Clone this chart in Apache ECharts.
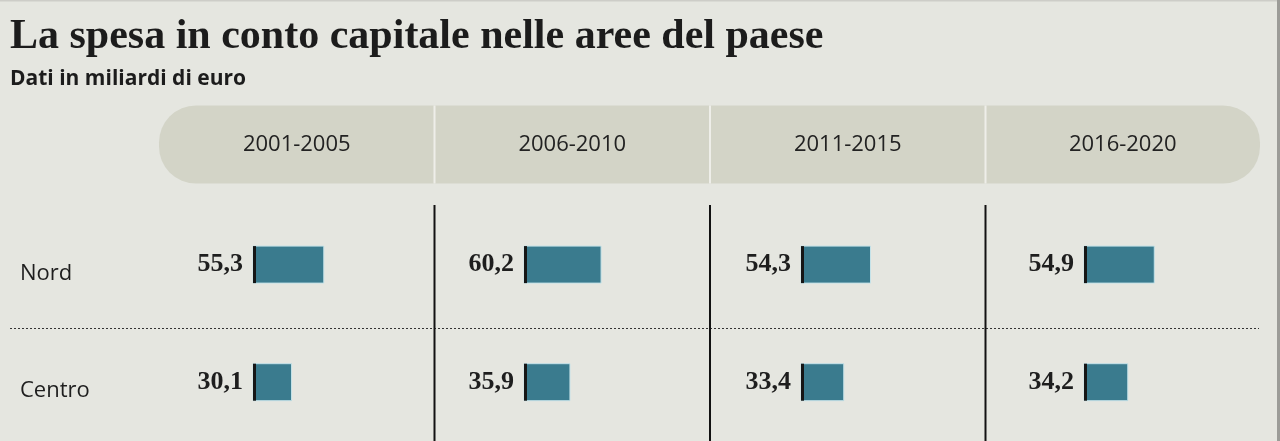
<!DOCTYPE html>
<html><head><meta charset="utf-8">
<script src="https://cdn.jsdelivr.net/npm/echarts@6/dist/echarts.min.js"></script>
<style>html,body{margin:0;padding:0;background:#e5e6e0}#c{width:1280px;height:441px}</style>
</head><body><div id="c"></div>
<script>
const periods = ['2001-2005', '2006-2010', '2011-2015', '2016-2020'];
const areas = ['Nord', 'Centro'];
const nord = [55.3, 60.2, 54.3, 54.9];
const centro = [30.1, 35.9, 33.4, 34.2];

const chart = echarts.init(document.getElementById('c'));
const barLefts = [253, 524, 801, 1084];
const colBounds = [159, 434.5, 710, 985.5, 1260];
const BAR_COLOR = '#3a7b8e';

function fmt(v) { return v.toFixed(1).replace('.', ','); }

function renderBar(params, api) {
  const v = api.value(0), c = api.value(1);
  const p0 = api.coord([0, c]);
  const p1 = api.coord([v, c]);
  const h = 37;
  const y = p0[1] - h / 2;
  return {
    type: 'group',
    children: [
      { type: 'rect', shape: { x: p0[0], y: y, width: p1[0] - p0[0], height: h },
        style: { fill: BAR_COLOR, stroke: '#c4e2e8', lineWidth: 1 } },
      { type: 'rect', shape: { x: p0[0], y: y, width: 3, height: h }, style: { fill: '#161616' } },
      { type: 'text', style: { text: fmt(v), x: p0[0] - 10, y: p0[1], align: 'right', verticalAlign: 'middle',
        font: 'bold 26px "Liberation Serif"', fill: '#1e1e1e' } }
    ]
  };
}

const grids = [], xAxes = [], yAxes = [], series = [];
periods.forEach((p, i) => {
  grids.push({ left: barLefts[i], top: 205.8, width: 128, height: 240 });
  xAxes.push({ gridIndex: i, type: 'value', min: 0, max: 100, show: false });
  yAxes.push({
    gridIndex: i, type: 'category', data: areas, inverse: true,
    axisLine: { show: false }, axisTick: { show: false }, splitLine: { show: false },
    axisLabel: { show: i === 0, align: 'left', margin: 233,
      formatter: v => '{a|' + v + '}',
      rich: { a: { padding: [18, 0, 0, 0], fontFamily: 'Open Sans', fontSize: 22, color: '#1e1e1e', lineHeight: 22 } } }
  });
  series.push({
    type: 'custom', xAxisIndex: i, yAxisIndex: i,
    data: [[nord[i], 0], [centro[i], 1]],
    encode: { x: 0, y: 1 },
    renderItem: renderBar
  });
});

const graphic = [
  { type: 'rect', shape: { x: 0, y: 0, width: 1280, height: 1.5 }, style: { fill: '#cdcdc8' } },
  { type: 'rect', shape: { x: 1277, y: 0, width: 3, height: 441 }, style: { fill: '#9c9c98' } },
  { type: 'rect', shape: { x: 159, y: 105.5, width: 1101, height: 78, r: 37 }, style: { fill: '#d3d4c7' } },
  { type: 'line', shape: { x1: 10, y1: 328.5, x2: 1259, y2: 328.5 }, style: { stroke: '#333', lineWidth: 1, lineDash: [2, 2] } }
];
for (let k = 1; k < 4; k++) {
  graphic.push({ type: 'rect', shape: { x: colBounds[k] - 1, y: 105.5, width: 2, height: 78 }, style: { fill: '#eeeee9' } });
  graphic.push({ type: 'rect', shape: { x: colBounds[k] - 1, y: 205, width: 2, height: 236 }, style: { fill: '#121212' } });
}
periods.forEach((p, i) => {
  graphic.push({ type: 'text', x: (colBounds[i] + colBounds[i + 1]) / 2, y: 144.5,
    style: { text: p, align: 'center', verticalAlign: 'middle', font: '22px "Open Sans"', fill: '#222' } });
});

chart.setOption({
  backgroundColor: '#e5e6e0',
  animation: false,
  title: [
    { text: 'La spesa in conto capitale nelle aree del paese', left: 10, top: 16, padding: 0,
      textStyle: { fontFamily: 'Liberation Serif', fontWeight: 'bold', fontSize: 42, color: '#1c1c1c', lineHeight: 42 } },
    { text: 'Dati in miliardi di euro', left: 10, top: 69, padding: 0,
      textStyle: { fontFamily: 'Open Sans', fontWeight: 'bold', fontSize: 21, color: '#1c1c1c', lineHeight: 21 } }
  ],
  grid: grids, xAxis: xAxes, yAxis: yAxes, series: series, graphic: graphic
});
</script></body></html>
